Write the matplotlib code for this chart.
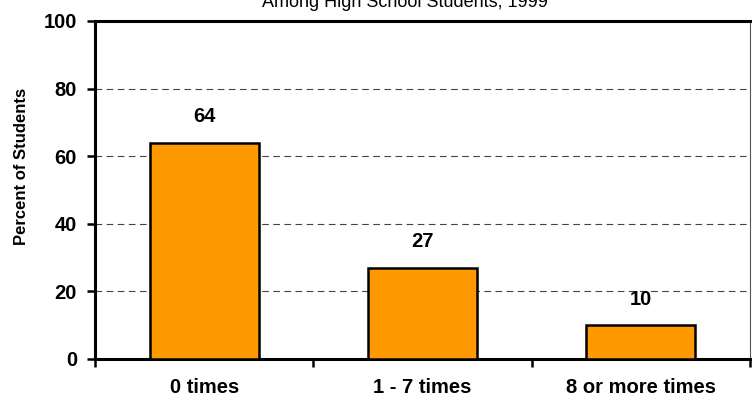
import matplotlib
matplotlib.use('Agg')
import matplotlib.pyplot as plt
from matplotlib.ticker import FixedLocator

plt.rcParams['font.family'] = ['Liberation Sans', 'DejaVu Sans']

categories = ['0 times', '1 - 7 times', '8 or more times']
percents = [64, 27, 10]
yticks = [0, 20, 40, 60, 80, 100]
title = 'Among High School Students, 1999'

fig = plt.figure(figsize=(7.52, 4.0), dpi=100)
ax = fig.add_axes([95 / 752, 41 / 400, 655 / 752, 338 / 400])

x = list(range(len(categories)))
ax.bar(x, percents, width=0.5, color='#FF9900', edgecolor='black', linewidth=1.8, zorder=3)

# value labels above bars
for xi, v in zip(x, percents):
    ax.annotate(str(v), (xi, v), xytext=(0, 12), textcoords='offset points',
                ha='center', va='bottom', fontsize=14.5, fontweight='bold')

ax.set_xlim(-0.5, len(categories) - 0.5)
ax.set_ylim(0, 100)
ax.set_yticks(yticks)
ax.set_yticklabels([str(t) for t in yticks], fontsize=14.5, fontweight='bold')
ax.set_xticks(x)
ax.set_xticklabels(categories, fontsize=14.5, fontweight='bold')
ax.tick_params(axis='x', which='major', length=0, pad=14)
ax.xaxis.set_minor_locator(FixedLocator([i - 0.5 for i in range(len(categories) + 1)]))
ax.tick_params(axis='x', which='minor', direction='out', length=6, width=1.8)
ax.tick_params(axis='y', direction='out', length=6, width=1.8, pad=7)

ax.yaxis.grid(True, linestyle=(0, (6, 4)), color='#444444', linewidth=0.8, zorder=0)
ax.set_ylabel('Percent of Students', fontsize=12, fontweight='bold')
ax.yaxis.set_label_coords(-0.1, 0.57)

for side in ['left', 'bottom', 'top']:
    ax.spines[side].set_linewidth(2.2)
ax.spines['right'].set_linewidth(0.8)
ax.spines['right'].set_color('#555555')

fig.text(548 / 752, 393 / 400, title, ha='right', va='baseline', fontsize=13)

fig.savefig('out.png', dpi=100)
